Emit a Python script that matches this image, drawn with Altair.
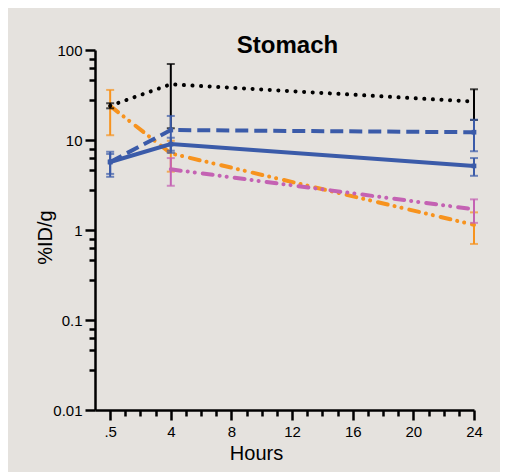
import altair as alt
import pandas as pd

# time points (hours); the .5 h point is drawn at the 0 position of the axis, as in the original
time_pos = [0, 4, 24]

# %ID/g values: mean, lower and upper end of error bar
black_mean = [24.0, 41.6, 26.7]
black_lo = [22.5, 13.5, 16.7]
black_hi = [25.6, 69.9, 36.6]

bluedash_mean = [5.7, 12.9, 12.2]
bluedash_lo = [3.9, 7.2, 7.5]
bluedash_hi = [7.4, 18.5, 16.8]

bluesolid_mean = [5.7, 9.0, 5.15]
bluesolid_lo = [4.2, 7.6, 4.0]
bluesolid_hi = [7.0, 10.6, 6.3]

orange_mean = [23.9, 7.1, 1.14]
orange_lo = [11.3, 4.45, 0.70]
orange_hi = [36.0, 9.8, 1.57]

magenta_mean = [None, 4.72, 1.70]
magenta_lo = [None, 3.1, 1.2]
magenta_hi = [None, 6.3, 2.19]

x_ticks = list(range(0, 25))
y_majors = [0.01, 0.1, 1, 10, 100]
y_minor_factors = [2.8, 4.6, 6.3, 8]

BG = "#e5e2de"
FONT = "Liberation Sans"

series_defs = [
    ("orange", orange_mean, orange_lo, orange_hi, "#f7931e", [10, 7, 0.1, 7, 0.1, 8], 4, None),
    ("magenta", magenta_mean, magenta_lo, magenta_hi, "#c462b3", [10, 7, 0.1, 7, 0.1, 8], 4, None),
    ("black", black_mean, black_lo, black_hi, "#000000", [0.1, 8.5], 4, None),
    ("bluesolid", bluesolid_mean, bluesolid_lo, bluesolid_hi, "#3b5ba9", None, 4, "square"),
    ("bluedash", bluedash_mean, bluedash_lo, bluedash_hi, "#3b5ba9", [13, 6], 4, "square"),
]

y_values = []
for d in y_majors[:-1]:
    y_values.append(d)
    for f in y_minor_factors:
        y_values.append(round(d * f, 6))
y_values.append(y_majors[-1])

xscale = alt.Scale(domain=[-1, 24], nice=False, zero=False)
yscale = alt.Scale(type="log", domain=[0.01, 100], nice=False)

x_major = "datum.value % 4 == 0"
xaxis = alt.Axis(
    values=x_ticks,
    labelExpr="datum.value % 4 == 0 ? (datum.value == 0 ? '.5' : datum.label) : ''",
    tickSize={"condition": {"test": x_major, "value": 10}, "value": 6},
    title="Hours",
    titleX=161,
    titleY=49,
    titleBaseline="alphabetic",
    labelPadding=4,
    labelFlush=False,
    labelOverlap=False,
    zindex=1,
)
y_major = "abs(log(datum.value)/LN10 - round(log(datum.value)/LN10)) < 0.001"
yaxis = alt.Axis(
    values=y_values,
    labelExpr=f"({y_major}) ? format(datum.value, '~g') : ''",
    tickSize={"condition": {"test": y_major, "value": 10}, "value": 6},
    title="%ID/g",
    titleX=-40,
    titleY=187,
    titleBaseline="bottom",
    labelPadding=3,
    labelFlush=False,
    labelOverlap=False,
    zindex=1,
)

rows = []
for name, mean, lo, hi, color, dash, width, shape in series_defs:
    for t, m, l, h in zip(time_pos, mean, lo, hi):
        if m is None:
            continue
        rows.append({"series": name, "t": t, "mean": m, "lo": l, "hi": h})
df = pd.DataFrame(rows)

layers = []
for name, mean, lo, hi, color, dash, width, shape in series_defs:
    base = alt.Chart(df).transform_filter(alt.datum.series == name)
    X = alt.X("t:Q", scale=xscale, axis=xaxis)
    line_kwargs = dict(color=color, strokeWidth=width, strokeCap="round" if dash else "butt")
    if dash:
        line_kwargs["strokeDash"] = dash
    if dash == [13, 6]:
        line_kwargs["strokeCap"] = "butt"
    line = base.mark_line(**line_kwargs).encode(
        x=X, y=alt.Y("mean:Q", scale=yscale, axis=yaxis)
    )
    rule = base.mark_rule(color=color, strokeWidth=2).encode(
        x=X, y=alt.Y("lo:Q", scale=yscale, axis=yaxis), y2="hi:Q"
    )
    cap_lo = base.mark_tick(color=color, orient="horizontal", size=8, thickness=2).encode(
        x=X, y=alt.Y("lo:Q", scale=yscale, axis=yaxis)
    )
    cap_hi = base.mark_tick(color=color, orient="horizontal", size=8, thickness=2).encode(
        x=X, y=alt.Y("hi:Q", scale=yscale, axis=yaxis)
    )
    layers += [rule, cap_lo, cap_hi, line]
    if shape:
        pts = base.mark_point(shape=shape, filled=True, color=color, size=22, opacity=1).encode(
            x=X, y=alt.Y("mean:Q", scale=yscale, axis=yaxis)
        )
        layers.append(pts)

chart = alt.layer(*layers).properties(
    width=379,
    height=360,
    padding={"left": 87, "top": 42, "right": 26, "bottom": 62},
    autosize="none",
    background=BG,
    title=alt.TitleParams(
        "Stomach", fontSize=24, fontWeight="bold", font=FONT, color="black",
        anchor="middle", dx=3, dy=15, offset=0,
    ),
).configure_view(stroke=None).configure_axis(
    domainColor="black", domainWidth=2.5, tickColor="black", tickWidth=2.5,
    labelFont=FONT, labelFontSize=15, labelColor="black",
    titleFont=FONT, titleFontSize=20, titleFontWeight="normal", titleColor="black",
    grid=False,
)

chart.save("out.html", embed_options={"renderer": "svg", "actions": False})
